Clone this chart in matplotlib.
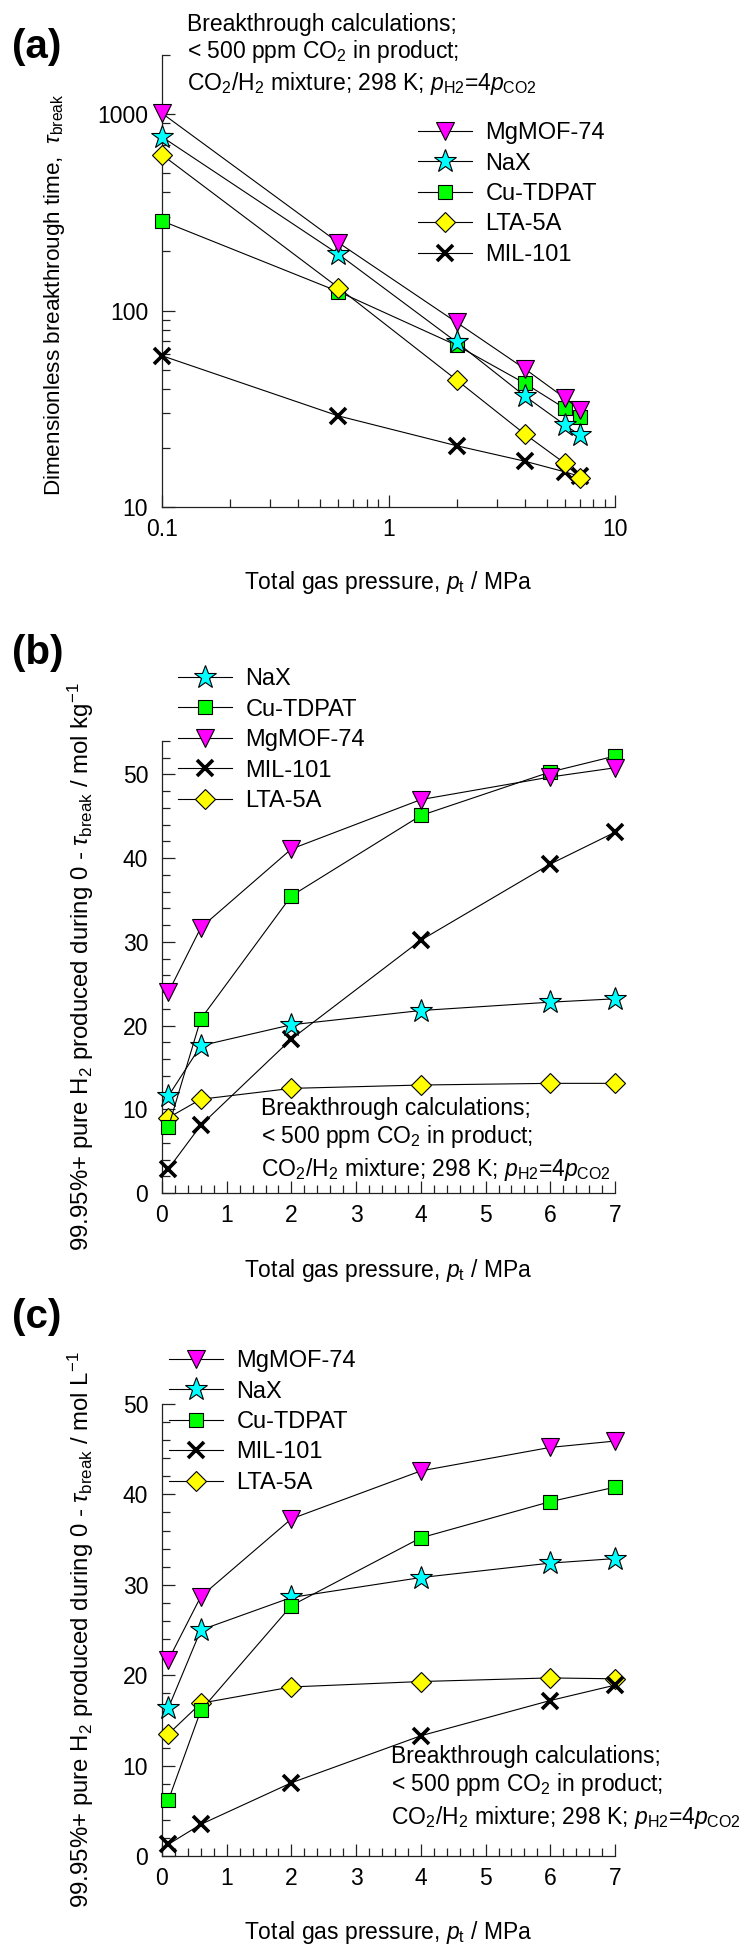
import matplotlib
matplotlib.use("Agg")
import matplotlib.pyplot as plt
from matplotlib.ticker import MultipleLocator, LogLocator, NullFormatter, FixedLocator, FixedFormatter

plt.rcParams['font.family'] = ['Liberation Sans', 'DejaVu Sans']
plt.rcParams['mathtext.fontset'] = 'custom'
plt.rcParams['mathtext.rm'] = 'Liberation Sans'
plt.rcParams['mathtext.it'] = 'Liberation Sans:italic'
plt.rcParams['mathtext.bf'] = 'Liberation Sans:bold'

# ---- data ----
pressure = [0.1, 0.6, 2, 4, 6, 7]  # total gas pressure, MPa

# (a) dimensionless breakthrough time
tau_mgmof = [1010, 222, 87, 50.5, 35.9, 31.3]
tau_nax = [766, 194, 69, 36.7, 26.2, 23.2]
tau_cutdpat = [286, 125, 66.5, 42.6, 31.8, 28.8]
tau_lta = [621, 131, 44.3, 23.5, 16.7, 14.1]
tau_mil = [58.9, 29.1, 20.5, 17.1, 15.1, 14.3]

# (b) H2 produced, mol/kg
kg_nax = [11.6, 17.6, 20.1, 21.8, 22.8, 23.2]
kg_cutdpat = [7.9, 20.8, 35.5, 45.1, 50.3, 52.2]
kg_mgmof = [24.0, 31.7, 41.1, 47.0, 49.7, 50.8]
kg_mil = [2.9, 8.1, 18.4, 30.2, 39.3, 43.1]
kg_lta = [9.0, 11.2, 12.5, 12.9, 13.1, 13.1]

# (c) H2 produced, mol/L
L_mgmof = [21.7, 28.7, 37.3, 42.6, 45.2, 45.9]
L_nax = [16.4, 25.0, 28.6, 30.8, 32.4, 32.9]
L_cutdpat = [6.2, 16.1, 27.7, 35.2, 39.2, 40.8]
L_mil = [1.3, 3.5, 8.1, 13.3, 17.2, 18.9]
L_lta = [13.5, 16.9, 18.7, 19.3, 19.7, 19.6]

styles = {
    'MgMOF-74': dict(marker='v', mfc='#FF00FF', mec='black', ms=12.5, mew=0.8),
    'NaX': dict(marker='*', mfc='#00FFFF', mec='black', ms=17, mew=0.8),
    'Cu-TDPAT': dict(marker='s', mfc='#00FF00', mec='black', ms=10.5, mew=0.8),
    'LTA-5A': dict(marker='D', mfc='#FFFF00', mec='black', ms=10, mew=0.8),
    'MIL-101': dict(marker='x', mfc='black', mec='black', ms=11, mew=2.6),
}

W, H = 753, 1950
fig = plt.figure(figsize=(W / 100, H / 100), dpi=100)


def fx(x):
    return x / W


def fy(y):
    return 1 - y / H


def make_axes(left, top, right, bottom):
    return fig.add_axes([fx(left), fy(bottom), (right - left) / W, (bottom - top) / H])


FS = 16.5
FS_LEG = 17
FS_NOTE = 16.5


def style_axes(ax):
    for s in ['top', 'right']:
        ax.spines[s].set_visible(False)
    for s in ['left', 'bottom']:
        ax.spines[s].set_linewidth(0.9)
        ax.spines[s].set_color('#222222')
    ax.tick_params(which='both', direction='in', color='#222222', width=0.9,
                   labelsize=FS, top=False, right=False)
    ax.tick_params(which='major', length=9)
    ax.tick_params(which='minor', length=6)
    ax.tick_params(axis='y', which='both', pad=10)
    ax.tick_params(axis='x', which='both', pad=8)


def plot_series(ax, name, y):
    ax.plot(pressure, y, color='black', lw=0.8, clip_on=False, zorder=3,
            label=name, **styles[name])


def add_legend(ax, order, x_left, y_top):
    handles, labels = ax.get_legend_handles_labels()
    lut = dict(zip(labels, handles))
    ax.legend([lut[n] for n in order], order, loc='upper left',
              bbox_to_anchor=(fx(x_left), fy(y_top)), bbox_transform=fig.transFigure,
              frameon=False, fontsize=FS_LEG, numpoints=1, handlelength=2.3,
              handletextpad=0.55, labelspacing=0.36, borderpad=0, borderaxespad=0)


def note(x, baselines):
    lines = ["Breakthrough calculations;",
             "< 500 ppm CO$_2$ in product;",
             "CO$_2$/H$_2$ mixture; 298 K; $p_{\\mathrm{H2}}$=4$p_{\\mathrm{CO2}}$"]
    for t, b in zip(lines, baselines):
        fig.text(fx(x), fy(b), t, fontsize=FS_NOTE, ha='left', va='baseline')


xlabel = "Total gas pressure, $p_{\\mathrm{t}}$ / MPa"

# ---- (a) ----
axa = make_axes(162, 55, 615, 507)
style_axes(axa)
axa.set_xscale('log')
axa.set_yscale('log')
axa.set_xlim(0.1, 10)
axa.set_ylim(10, 2000)
for name, y in [('MIL-101', tau_mil), ('Cu-TDPAT', tau_cutdpat), ('LTA-5A', tau_lta),
                ('NaX', tau_nax), ('MgMOF-74', tau_mgmof)]:
    plot_series(axa, name, y)
axa.xaxis.set_major_locator(FixedLocator([0.1, 1, 10]))
axa.xaxis.set_major_formatter(FixedFormatter(['0.1', '1', '10']))
axa.xaxis.set_minor_locator(LogLocator(base=10, subs=range(2, 10), numticks=20))
axa.xaxis.set_minor_formatter(NullFormatter())
axa.yaxis.set_major_locator(FixedLocator([10, 100, 1000]))
axa.yaxis.set_major_formatter(FixedFormatter(['10', '100', '1000']))
axa.yaxis.set_minor_locator(LogLocator(base=10, subs=range(2, 10), numticks=20))
axa.yaxis.set_minor_formatter(NullFormatter())
axa.set_xlabel(xlabel, fontsize=FS, va='center')
axa.xaxis.set_label_coords(0.5, -(582 - 507) / 452)
axa.set_ylabel("Dimensionless breakthrough time,  $\\tau_{\\mathrm{break}}$", fontsize=16.2, va='center')
axa.yaxis.set_label_coords((55 - 162) / 453, 0.47)
add_legend(axa, ['MgMOF-74', 'NaX', 'Cu-TDPAT', 'LTA-5A', 'MIL-101'], 418, 122)
note(187, [31, 58, 90])
fig.text(fx(12), fy(47), "(a)", fontsize=29, fontweight='bold', ha='left', va='center')

# ---- (b) ----
axb = make_axes(162, 741, 615, 1193)
style_axes(axb)
axb.set_xlim(0, 7)
axb.set_ylim(0, 54)
for name, y in [('LTA-5A', kg_lta), ('MIL-101', kg_mil), ('NaX', kg_nax),
                ('Cu-TDPAT', kg_cutdpat), ('MgMOF-74', kg_mgmof)]:
    plot_series(axb, name, y)
axb.xaxis.set_major_locator(MultipleLocator(1))
axb.xaxis.set_minor_locator(MultipleLocator(0.2))
axb.yaxis.set_major_locator(FixedLocator([0, 10, 20, 30, 40, 50]))
axb.yaxis.set_minor_locator(MultipleLocator(2))
axb.set_xlabel(xlabel, fontsize=FS, va='center')
axb.xaxis.set_label_coords(0.5, -(1270 - 1193) / 452)
axb.set_ylabel("99.95%+ pure H$_2$ produced during 0 - $\\tau_{\\mathrm{break}}$ / mol kg$^{-1}$",
               fontsize=17.3, va='center')
axb.yaxis.set_label_coords((81 - 162) / 453, 0.5)
add_legend(axb, ['NaX', 'Cu-TDPAT', 'MgMOF-74', 'MIL-101', 'LTA-5A'], 178, 668)
note(261, [1115, 1143, 1176])
fig.text(fx(12), fy(653), "(b)", fontsize=29, fontweight='bold', ha='left', va='center')

# ---- (c) ----
axc = make_axes(162, 1404, 615, 1856)
style_axes(axc)
axc.set_xlim(0, 7)
axc.set_ylim(0, 50)
for name, y in [('LTA-5A', L_lta), ('MIL-101', L_mil), ('NaX', L_nax),
                ('Cu-TDPAT', L_cutdpat), ('MgMOF-74', L_mgmof)]:
    plot_series(axc, name, y)
axc.xaxis.set_major_locator(MultipleLocator(1))
axc.xaxis.set_minor_locator(MultipleLocator(0.2))
axc.yaxis.set_major_locator(MultipleLocator(10))
axc.yaxis.set_minor_locator(MultipleLocator(2))
axc.set_xlabel(xlabel, fontsize=FS, va='center')
axc.xaxis.set_label_coords(0.5, -(1933 - 1856) / 452)
axc.set_ylabel("99.95%+ pure H$_2$ produced during 0 - $\\tau_{\\mathrm{break}}$ / mol L$^{-1}$",
               fontsize=17.3, va='center')
axc.yaxis.set_label_coords((81 - 162) / 453, 0.5)
add_legend(axc, ['MgMOF-74', 'NaX', 'Cu-TDPAT', 'MIL-101', 'LTA-5A'], 169, 1350)
note(391, [1763, 1791, 1824])
fig.text(fx(12), fy(1317), "(c)", fontsize=29, fontweight='bold', ha='left', va='center')

fig.savefig("out.png", dpi=100)
